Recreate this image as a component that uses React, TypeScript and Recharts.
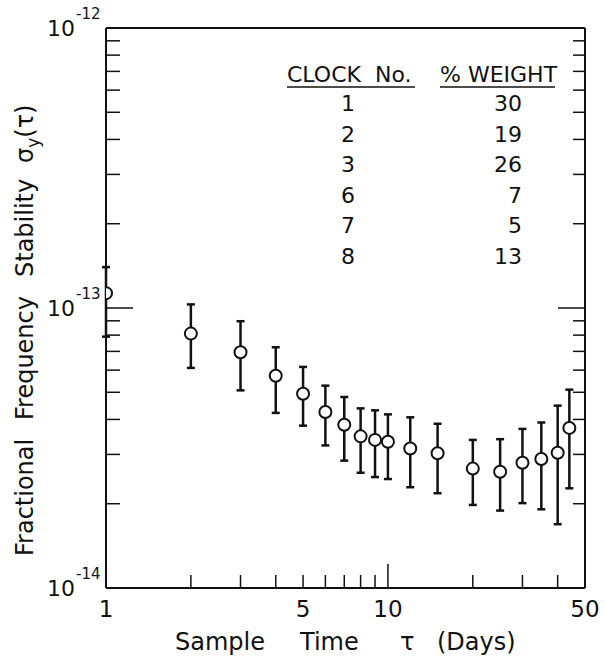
import React from "react";
import { ScatterChart, Scatter, XAxis, YAxis, ErrorBar } from "recharts";

// sample time tau (days)
const tau = [1, 2, 3, 4, 5, 6, 7, 8, 9, 10, 12, 15, 20, 25, 30, 35, 40, 44];
// sigma_y(tau), in units of 1e-14
const sigma = [11.3, 8.1, 6.95, 5.73, 4.94, 4.25, 3.83, 3.48, 3.38, 3.33, 3.15, 3.03, 2.67, 2.6, 2.8, 2.89, 3.04, 3.73];
const sigmaLow = [7.9, 6.11, 5.08, 4.22, 3.8, 3.23, 2.85, 2.58, 2.49, 2.45, 2.29, 2.18, 1.98, 1.89, 2.01, 1.91, 1.69, 2.27];
const sigmaHigh = [14.0, 10.3, 8.97, 7.24, 6.16, 5.28, 4.81, 4.38, 4.31, 4.17, 4.07, 3.86, 3.38, 3.4, 3.7, 3.9, 4.48, 5.11];

const xTicks = [1, 2, 3, 4, 5, 6, 7, 8, 9, 10, 20, 30, 40, 50];
const xLabels = [1, 5, 10, 50];
const yTicks = [1, 2, 3, 4, 5, 6, 7, 8, 9, 10, 20, 30, 40, 50, 60, 70, 80, 90, 100];
const yLabelTicks = [1, 10, 100];
const yLabelExps = ["-14", "-13", "-12"];

const clockNos = ["1", "2", "3", "6", "7", "8"];
const weights = ["30", "19", "26", "7", "5", "13"];

const data = tau.map((t, i) => ({
  tau: t,
  sigma: sigma[i],
  err: [sigma[i] - sigmaLow[i], sigmaHigh[i] - sigma[i]],
}));

const FONT = "'DejaVu Sans', sans-serif";
const INK = "#111";

const BottomTick = (props: any) => {
  const { x, y, payload } = props;
  const v = payload.value;
  const len = v === 10 ? 24 : 13;
  return (
    <g>
      {v !== 1 && v !== 50 && (
        <line x1={x} y1={y} x2={x} y2={y - len} stroke={INK} strokeWidth={1.5} />
      )}
      {xLabels.includes(v) && (
        <text x={x} y={y + 29} textAnchor="middle" fontSize={23} fill={INK} fontFamily={FONT}>
          {v}
        </text>
      )}
    </g>
  );
};

const TopTick = (props: any) => {
  const { x, y, payload } = props;
  const v = payload.value;
  if (v === 1 || v === 50) return <g />;
  const len = v === 10 ? 23 : 12;
  return <line x1={x} y1={y} x2={x} y2={y + len} stroke={INK} strokeWidth={1.5} />;
};

const LeftTick = (props: any) => {
  const { x, y, payload } = props;
  const v = payload.value;
  const len = v === 10 ? 27 : 14;
  const li = yLabelTicks.indexOf(v);
  return (
    <g>
      {v !== 1 && v !== 100 && (
        <line x1={x} y1={y} x2={x + len} y2={y} stroke={INK} strokeWidth={1.5} />
      )}
      {li >= 0 && (
        <g fill={INK} fontFamily={FONT}>
          <text x={x - 31} y={y + 8} textAnchor="end" fontSize={22}>10</text>
          <text x={x - 30} y={y - 9} textAnchor="start" fontSize={15}>{yLabelExps[li]}</text>
        </g>
      )}
    </g>
  );
};

const RightTick = (props: any) => {
  const { x, y, payload } = props;
  const v = payload.value;
  if (v === 1 || v === 100) return <g />;
  const len = v === 10 ? 27 : 12;
  return <line x1={x} y1={y} x2={x - len} y2={y} stroke={INK} strokeWidth={1.5} />;
};

const Point = (p: any) => (
  <circle cx={p.cx} cy={p.cy} r={6} fill="#fff" stroke={INK} strokeWidth={2} />
);

const frame = { stroke: INK, strokeWidth: 2 };

export default function App() {
  return (
    <div style={{ position: "relative", width: 605, height: 662, background: "#fff" }}>
      <style>{"body{margin:0}"}</style>
      <ScatterChart
        width={605}
        height={662}
        margin={{ top: 27, right: 19, bottom: 73, left: 105 }}
        style={{ fontFamily: FONT }}
      >
        <XAxis
          dataKey="tau"
          type="number"
          scale="log"
          domain={[1, 50]}
          allowDataOverflow
          ticks={xTicks}
          interval={0}
          height={1}
          tickSize={0}
          tickMargin={0}
          tickLine={false}
          axisLine={frame}
          tick={BottomTick}
        />
        <XAxis
          xAxisId="top"
          orientation="top"
          type="number"
          scale="log"
          domain={[1, 50]}
          allowDataOverflow
          ticks={xTicks}
          interval={0}
          height={1}
          tickSize={0}
          tickMargin={0}
          tickLine={false}
          axisLine={frame}
          tick={TopTick}
        />
        <YAxis
          dataKey="sigma"
          type="number"
          scale="log"
          domain={[1, 100]}
          allowDataOverflow
          ticks={yTicks}
          interval={0}
          width={1}
          tickSize={0}
          tickMargin={0}
          tickLine={false}
          axisLine={frame}
          tick={LeftTick}
        />
        <YAxis
          yAxisId="right"
          orientation="right"
          type="number"
          scale="log"
          domain={[1, 100]}
          allowDataOverflow
          ticks={yTicks}
          interval={0}
          width={1}
          tickSize={0}
          tickMargin={0}
          tickLine={false}
          axisLine={frame}
          tick={RightTick}
        />
        <Scatter data={data} dataKey="sigma" shape={Point} isAnimationActive={false}>
          <ErrorBar dataKey="err" direction="y" width={4} strokeWidth={2.5} stroke={INK} isAnimationActive={false} />
        </Scatter>
      </ScatterChart>
      <svg
        width={605}
        height={662}
        style={{ position: "absolute", left: 0, top: 0, pointerEvents: "none" }}
        fontFamily={FONT}
        fill={INK}
      >
        {/* x axis title */}
        <text y={650} fontSize={24}>
          <tspan x={175}>Sample</tspan>
          <tspan x={300}>Time</tspan>
          <tspan x={400}>τ</tspan>
          <tspan x={437}>(Days)</tspan>
        </text>
        {/* y axis title */}
        <text transform="translate(33,0) rotate(-90)" fontSize={24}>
          <tspan x={-556}>Fractional</tspan>
          <tspan x={-420}>Frequency</tspan>
          <tspan x={-277}>Stability</tspan>
          <tspan x={-163}>σ</tspan>
          <tspan dy={6} fontSize={17}>y</tspan>
          <tspan dy={-6}>(τ)</tspan>
        </text>
        {/* weighting table */}
        <g fontSize={22}>
          <text x={287} y={82}>{"CLOCK\u00a0\u00a0No."}</text>
          <text x={440} y={82}>% WEIGHT</text>
          <line x1={287} y1={87} x2={415} y2={87} stroke={INK} strokeWidth={1.5} />
          <line x1={440} y1={87} x2={555} y2={87} stroke={INK} strokeWidth={1.5} />
          {clockNos.map((c, i) => (
            <text key={"c" + c} x={348} y={111 + i * 30.6} textAnchor="middle">{c}</text>
          ))}
          {weights.map((w, i) => (
            <text key={"w" + i} x={522} y={111 + i * 30.6} textAnchor="end">{w}</text>
          ))}
        </g>
      </svg>
    </div>
  );
}
